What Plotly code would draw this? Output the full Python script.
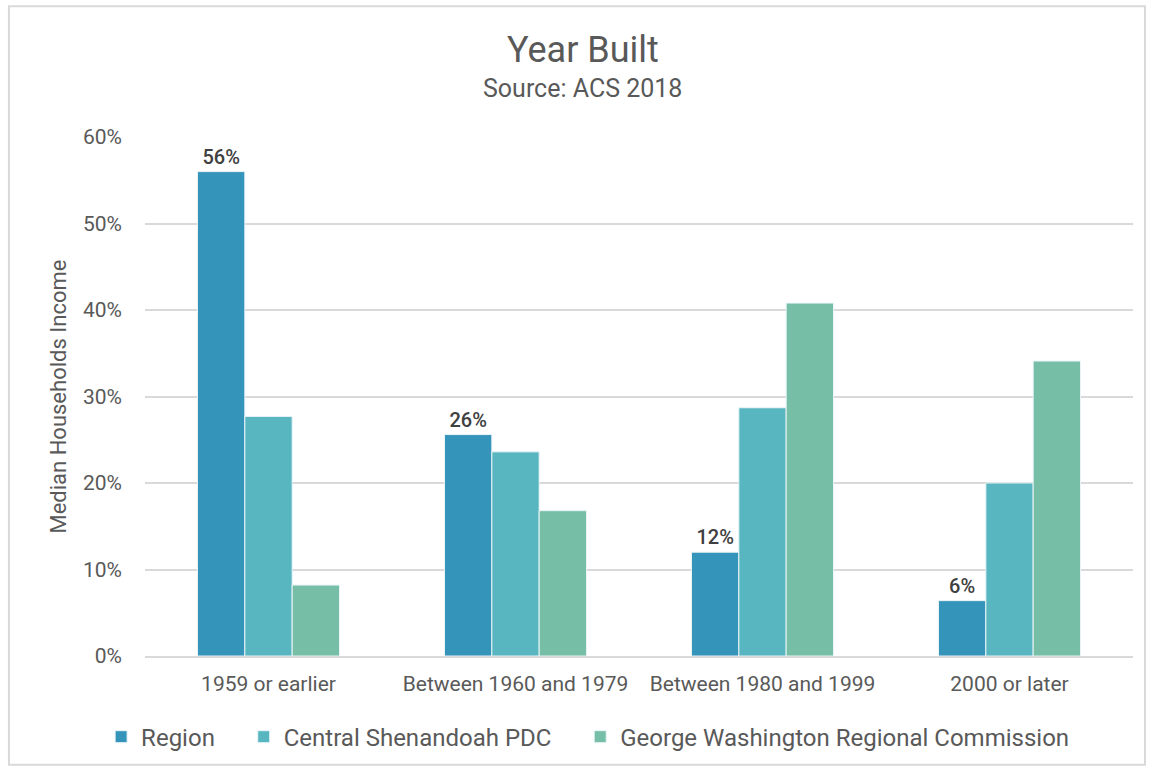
import plotly.graph_objects as go

categories = ["1959 or earlier", "Between 1960 and 1979", "Between 1980 and 1999", "2000 or later"]
region = [0.560, 0.256, 0.120, 0.064]
central_shenandoah = [0.277, 0.236, 0.287, 0.200]
george_washington = [0.082, 0.168, 0.408, 0.341]

FONT = "Roboto, Open Sans, sans-serif"
GREY = "#595959"
PAD = "\u00a0" * 4  # extra room between legend entries

fig = go.Figure()
fig.add_trace(go.Bar(
    x=categories, y=region, name="Region" + PAD,
    marker=dict(color="#3594BA", line=dict(color="#EAF4F7", width=1)),
    texttemplate="%{y:.0%}", textposition="outside", cliponaxis=False,
    textfont=dict(size=20, color="#404040", family=FONT, weight=500),
))
fig.add_trace(go.Bar(
    x=categories, y=central_shenandoah, name="Central Shenandoah PDC" + PAD,
    marker=dict(color="#58B6C0", line=dict(color="#EAF4F7", width=1)),
))
fig.add_trace(go.Bar(
    x=categories, y=george_washington, name="George Washington Regional Commission",
    marker=dict(color="#76BEA6", line=dict(color="#EAF4F7", width=1)),
))

# chart border
fig.add_shape(type="rect", xref="paper", yref="paper",
              x0=-0.1377, x1=1.0121, y0=-0.2096, y1=1.252,
              line=dict(color="#D9D9D9", width=2), layer="below")

fig.add_annotation(text="Year Built", xref="paper", yref="paper",
                   x=0.443, y=1.167, xanchor="center", yanchor="middle",
                   showarrow=False, font=dict(size=36, color=GREY, family=FONT))
fig.add_annotation(text="Source: ACS 2018", xref="paper", yref="paper",
                   x=0.443, y=1.094, xanchor="center", yanchor="middle",
                   showarrow=False, font=dict(size=25, color=GREY, family=FONT))
fig.add_annotation(text="Median Households Income", xref="paper", yref="paper",
                   x=-0.088, y=0.5, xanchor="center", yanchor="middle", textangle=-90,
                   showarrow=False, font=dict(size=22, color=GREY, family=FONT))

fig.update_layout(
    width=1151, height=770,
    margin=dict(l=145, r=18, t=137, b=113),
    paper_bgcolor="white", plot_bgcolor="white",
    barmode="group", bargap=0.425, bargroupgap=0,
    font=dict(family=FONT, color=GREY),
    showlegend=True,
    legend=dict(orientation="h", x=0.448, xanchor="center", y=-0.154, yanchor="middle",
                font=dict(size=24, color=GREY, family=FONT), itemwidth=30,
                traceorder="normal"),
)
fig.update_yaxes(range=[0, 0.6], dtick=0.1, tickformat=".0%",
                 gridcolor="#D9D9D9", gridwidth=2, zeroline=False,
                 showline=False, ticklabelstandoff=22,
                 tickfont=dict(size=21, color=GREY, family=FONT))
fig.update_xaxes(showline=True, linecolor="#D9D9D9", linewidth=2,
                 tickfont=dict(size=21, color=GREY, family=FONT), ticklabelstandoff=8)

fig.write_html("out.html", config={"displayModeBar": False},
               post_script="document.body.style.margin='0';")
